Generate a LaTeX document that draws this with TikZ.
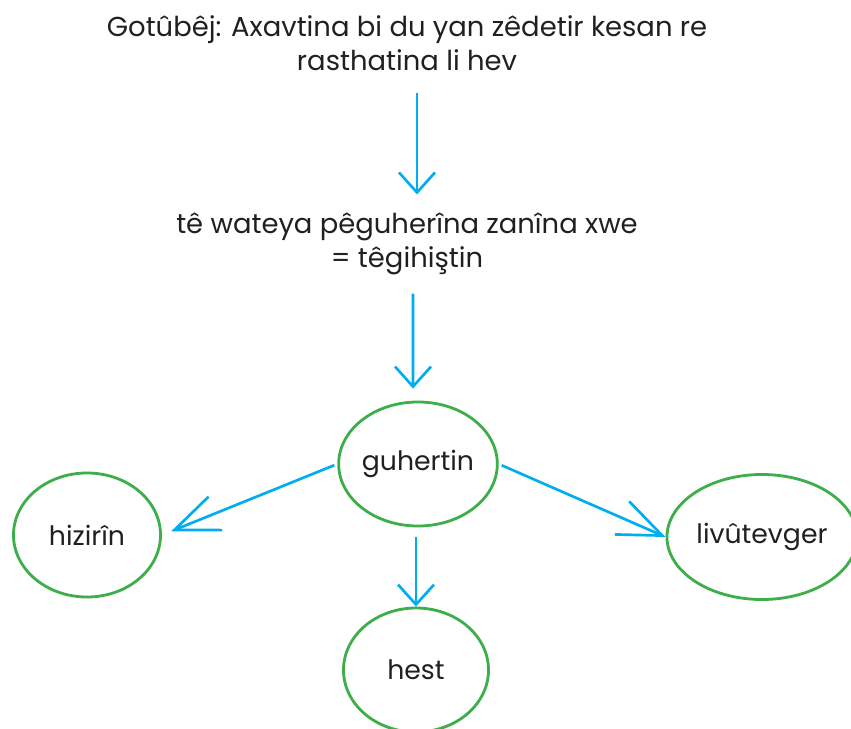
\documentclass[tikz,border=0pt]{standalone}
\usepackage{fontspec}
\setmainfont{Poppins}
\usetikzlibrary{shapes.geometric,arrows.meta}
\definecolor{arrowblue}{RGB}{0,174,239}
\definecolor{ovalgreen}{RGB}{61,174,73}
\definecolor{inkgrey}{RGB}{35,31,32}

\begin{document}
\begin{tikzpicture}[x=0.025cm, y=-0.025cm,
    caption/.style={align=center, text=inkgrey, font=\fontsize{19.5}{24.5}\selectfont, inner sep=0pt},
    oval/.style={draw=ovalgreen, line width=2pt, ellipse, inner sep=0pt, text=inkgrey, font=\fontsize{19}{22}\selectfont},
    downarrow/.style={draw=arrowblue, line width=1.9pt, -{Straight Barb[length=0.5cm, width=0.9cm]}},
    sidearrow/.style={draw=arrowblue, line width=1.9pt, -{Straight Barb[length=1.1cm, width=0.9cm]}}
  ]
    \useasboundingbox (0,0) rectangle (851,729);
    \clip (0,0) rectangle (851,729);

    % Text at the top
    \node[caption] (title) at (407,43) {Gotûbêj: Axavtina bi du yan zêdetir kesan re\\rasthatina li hev};
    \node[caption] (meaning) at (407,244) {tê wateya pêguherîna zanîna xwe\\= têgihiştin};

    % Ovals
    \node[oval, minimum width=3.85cm, minimum height=3.1cm] at (418,464) (change) {guhertin};
    \node[oval, minimum width=3.675cm, minimum height=3.1cm] at (87,535) (thought) {hizirîn};
    \node[oval, minimum width=4.75cm, minimum height=3.125cm] at (762,537) (behaviour) {livûtevger};
    \node[oval, minimum width=3.625cm, minimum height=3.1cm] at (416,670) (sense) {hest};

    % Arrows
    \draw[downarrow, shorten <=0.55cm, shorten >=0.45cm] ([xshift=0.25cm]title.south) -- ([xshift=0.25cm]meaning.north);
    \draw[downarrow, shorten <=0.45cm, shorten >=0.3cm] ([xshift=0.15cm]meaning.south) -- ([xshift=-0.125cm]change.north);
    \draw[sidearrow, shorten <=0.08cm, shorten >=0.25cm] (change.west) -- (thought.east);
    \draw[sidearrow, shorten <=0.08cm] (change.east) -- (behaviour.west);
    \draw[downarrow, shorten <=0.25cm] (sense.north |- change.south) -- (sense.north);
  \end{tikzpicture}
\end{document}
